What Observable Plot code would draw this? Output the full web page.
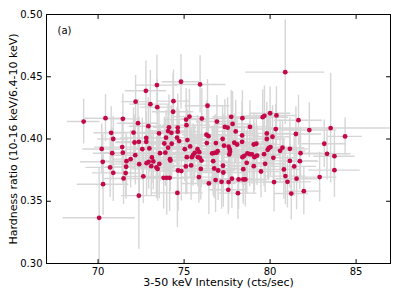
<!DOCTYPE html>
<html><head><meta charset="utf-8">
<script src="https://cdn.jsdelivr.net/npm/d3@7"></script>
<script src="https://cdn.jsdelivr.net/npm/@observablehq/plot@0.6"></script>
<style>body{margin:0;background:#fff} svg{font-family:"DejaVu Sans",sans-serif}</style>
</head><body><div id="chart"></div>
<script>
const xTicks = [70, 75, 80, 85];
const yTicks = [0.30, 0.35, 0.40, 0.45, 0.50];
const panelLabel = "(a)";
const xLabel = "3-50 keV Intensity (cts/sec)";
const yLabel = "Hardness ratio (10-16 keV/6.4-10 keV)";

const xs = [69.16,70.06,70.21,70.27,70.29,70.43,70.76,70.70,70.82,70.88,
70.88,71.44,71.40,71.44,71.48,71.60,71.63,71.65,71.89,72.06,
72.12,72.16,72.18,72.32,72.37,72.39,72.37,72.57,72.63,72.78,
72.80,72.82,72.80,72.92,72.94,72.98,73.04,73.09,73.13,73.21,
73.39,73.42,73.44,73.46,73.54,73.56,73.60,73.81,73.85,73.91,
73.95,73.99,74.07,74.07,74.12,74.16,74.18,74.20,74.26,74.28,
74.36,74.38,74.59,74.63,74.63,74.61,74.65,74.71,74.82,74.84,
75.04,75.10,75.12,75.14,75.16,75.19,75.31,75.35,75.41,75.45,
75.53,75.62,75.78,75.80,75.86,75.88,75.93,75.91,75.97,76.01,
76.03,76.30,76.32,76.36,76.42,76.44,76.63,76.69,76.75,76.77,
76.83,76.85,76.89,76.91,76.95,76.98,77.18,77.24,77.26,77.28,
77.32,77.37,77.53,77.57,77.59,77.59,77.63,77.65,77.67,77.74,
77.78,77.82,77.92,78.00,78.08,78.13,78.17,78.37,78.39,78.37,
78.39,78.44,78.44,78.50,78.56,78.64,78.68,78.83,78.81,78.95,
79.05,79.05,79.09,79.20,79.24,79.47,79.57,79.67,79.65,79.71,
79.81,79.81,79.86,79.92,80.00,80.02,80.14,80.19,80.23,80.33,
80.37,80.58,80.72,80.80,80.88,80.89,81.01,81.15,81.15,81.23,
81.40,81.50,81.54,81.65,81.73,81.77,81.96,82.28,82.88,83.15,
83.31,83.52,83.74,83.74,84.36];

const ys = [0.414,0.3367,0.392,0.3817,0.3637,0.4167,0.405,0.3772,0.3886,0.400,
0.3728,0.4162,0.3935,0.389,0.3683,0.3726,0.3777,0.3822,0.3838,0.4052,
0.3972,0.387,0.430,0.4127,0.3545,0.3798,0.3977,0.3918,0.370,0.4387,
0.4008,0.3806,0.3977,0.4103,0.3817,0.3924,0.428,0.3782,0.3852,0.382,
0.3772,0.4433,0.4256,0.376,0.4045,0.380,0.3886,0.3688,0.3964,0.389,
0.4011,0.3688,0.393,0.4064,0.4094,0.3688,0.3838,0.3827,0.405,0.3962,
0.4219,0.4304,0.4011,0.4091,0.4059,0.3567,0.3747,0.3983,0.446,0.3742,
0.3918,0.378,0.4156,0.4111,0.3854,0.3991,0.418,0.394,0.3788,0.3854,
0.3873,0.3889,0.3918,0.3854,0.3694,0.3894,0.4438,0.3849,0.376,0.3827,
0.4164,0.4034,0.3967,0.4267,0.4023,0.3643,0.3884,0.3822,0.3763,0.3889,
0.367,0.3967,0.389,0.414,0.3902,0.3747,0.3656,0.400,0.3785,0.3731,
0.3946,0.4097,0.4091,0.3592,0.3938,0.3654,0.3876,0.3918,0.3897,0.4178,
0.3681,0.4121,0.397,0.4061,0.3956,0.3565,0.3675,0.4029,0.4167,0.3977,
0.3854,0.3758,0.3675,0.3865,0.3675,0.3809,0.3884,0.4097,0.3878,0.3876,
0.3782,0.3956,0.3854,0.3962,0.3867,0.3739,0.4175,0.4186,0.3878,0.3801,
0.4045,0.400,0.3913,0.3926,0.4207,0.3935,0.4018,0.3849,0.3654,0.408,
0.4189,0.3905,0.393,0.3756,0.4537,0.3702,0.3656,0.3921,0.3824,0.3562,
0.378,0.404,0.3681,0.4151,0.3822,0.3886,0.3581,0.4072,0.3694,0.3962,
0.3881,0.4088,0.3862,0.375,0.4021];

const xerr = [0.95,2.1,1.1,1.3,1.5,1.2,1.0,1.4,1.1,0.9,
1.2,1.0,1.6,1.3,1.1,0.9,1.2,1.5,1.0,1.3,
1.1,1.4,0.8,1.2,1.0,1.6,1.3,0.9,1.1,1.2,
1.5,1.0,1.3,1.1,1.7,0.9,1.2,1.4,1.0,1.3,
1.1,1.2,1.0,1.5,1.3,0.9,1.6,1.2,1.4,1.0,
1.3,1.1,1.5,1.2,0.9,1.4,1.1,1.7,1.0,1.3,
1.2,1.0,1.4,1.1,1.3,1.5,0.9,1.2,1.1,1.6,
1.3,1.0,1.2,1.4,1.1,1.5,0.9,1.3,1.2,1.0,
1.6,1.1,1.3,1.2,1.0,1.4,1.5,1.1,1.3,0.9,
1.2,1.4,1.0,1.3,1.1,1.6,1.2,1.0,1.4,1.3,
1.1,1.5,0.9,1.2,1.3,1.0,1.4,1.6,1.1,1.2,
1.3,1.0,1.5,1.1,1.2,1.4,0.9,1.3,1.6,1.1,
1.2,1.0,1.4,1.3,1.5,1.1,1.2,1.0,1.3,1.6,
1.1,1.4,1.2,0.9,1.3,1.5,1.0,1.2,1.4,1.1,
1.3,1.6,1.0,1.2,1.4,1.1,1.5,1.3,1.0,1.2,
1.4,1.1,1.6,1.3,1.2,1.5,1.0,1.3,1.1,1.4,
1.2,1.5,1.3,1.0,2.3,1.2,1.4,1.1,1.6,1.0,
1.3,1.5,1.2,1.4,1.1,1.3,1.0,1.6,1.0,1.3,
1.4,3.6,1.2,1.5,1.0];

const yerr = [0.018,0.04,0.02,0.022,0.025,0.019,0.021,0.024,0.02,0.018,
0.023,0.02,0.022,0.025,0.021,0.019,0.026,0.02,0.023,0.02,
0.022,0.024,0.021,0.019,0.043,0.023,0.02,0.025,0.022,0.024,
0.021,0.026,0.02,0.023,0.022,0.019,0.027,0.024,0.021,0.023,
0.025,0.024,0.022,0.026,0.02,0.028,0.023,0.025,0.021,0.027,
0.022,0.03,0.024,0.021,0.026,0.027,0.023,0.025,0.022,0.028,
0.03,0.025,0.024,0.027,0.022,0.028,0.033,0.025,0.022,0.024,
0.026,0.023,0.025,0.021,0.03,0.024,0.022,0.026,0.028,0.023,
0.025,0.022,0.027,0.024,0.021,0.026,0.023,0.028,0.025,0.022,
0.024,0.027,0.023,0.021,0.026,0.025,0.022,0.028,0.024,0.03,
0.026,0.023,0.025,0.021,0.027,0.024,0.022,0.026,0.023,0.028,
0.025,0.022,0.024,0.02,0.026,0.023,0.027,0.022,0.025,0.021,
0.024,0.026,0.023,0.025,0.022,0.021,0.024,0.027,0.022,0.025,
0.023,0.026,0.02,0.024,0.022,0.025,0.023,0.021,0.026,0.024,
0.022,0.025,0.027,0.023,0.024,0.021,0.022,0.024,0.026,0.023,
0.025,0.022,0.024,0.026,0.021,0.023,0.025,0.022,0.024,0.02,
0.023,0.025,0.022,0.024,0.042,0.023,0.021,0.025,0.022,0.021,
0.024,0.022,0.025,0.02,0.023,0.021,0.019,0.022,0.02,0.019,
0.021,0.044,0.02,0.022,0.015];

const data = xs.map((x, i) => ({x, y: ys[i], xe: xerr[i], ye: yerr[i]}));
const line = {draw(c, l) { c.moveTo(0, 0); c.lineTo(0, -l); }};
const tickStyle = {length: 4, anchor: "start", shape: line, stroke: "#000", strokeWidth: 1};

const chart = Plot.plot({
  width: 399, height: 299,
  marginLeft: 46, marginRight: 9, marginTop: 14, marginBottom: 36,
  style: {fontFamily: "DejaVu Sans", fontSize: "10px", color: "#000", background: "#fff"},
  x: {domain: [67, 87]},
  y: {domain: [0.30, 0.50]},
  marks: [
    Plot.ruleY(data, {y: "y", x1: d => d.x - d.xe, x2: d => d.x + d.xe, stroke: "#d6d6d6", strokeWidth: 1.4, clip: true}),
    Plot.ruleX(data, {x: "x", y1: d => d.y - d.ye, y2: d => d.y + d.ye, stroke: "#d6d6d6", strokeWidth: 1.4, clip: true}),
    Plot.dot(data, {x: "x", y: "y", r: 2.4, fill: "#c5084a", stroke: "none"}),
    Plot.frame({stroke: "#000", strokeWidth: 1}),
    Plot.vector(xTicks, {x: d => d, frameAnchor: "bottom", rotate: 0, ...tickStyle}),
    Plot.vector(xTicks, {x: d => d, frameAnchor: "top", rotate: 180, ...tickStyle}),
    Plot.vector(yTicks, {y: d => d, frameAnchor: "left", rotate: 90, ...tickStyle}),
    Plot.vector(yTicks, {y: d => d, frameAnchor: "right", rotate: -90, ...tickStyle}),
    Plot.axisX({ticks: xTicks, tickSize: 0, tickPadding: 4, label: null, fontSize: 10}),
    Plot.axisY({ticks: yTicks, tickSize: 0, tickPadding: 4, tickFormat: d3.format(".2f"), label: null, fontSize: 10}),
    Plot.text([xLabel], {frameAnchor: "bottom", textAnchor: "middle", dy: 22, fontSize: 11, fill: "#000"}),
    Plot.text([yLabel], {frameAnchor: "left", textAnchor: "middle", rotate: -90, dx: -33, fontSize: 11, fill: "#000"}),
    Plot.text([panelLabel], {frameAnchor: "top-left", dx: 11, dy: 12, fontSize: 10, fill: "#000"})
  ]
});
document.getElementById("chart").appendChild(chart);
</script>
</body></html>
